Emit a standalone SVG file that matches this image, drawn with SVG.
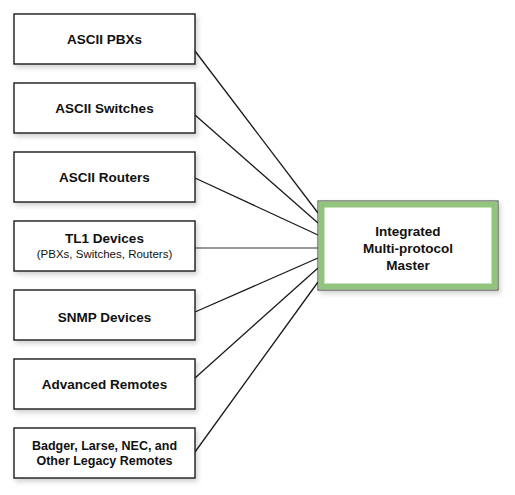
<svg xmlns="http://www.w3.org/2000/svg" width="515" height="495" viewBox="0 0 515 495">
<style>
.box{fill:#fff;stroke:#1a1a1a;stroke-width:1.4;filter:url(#sh)}
.t{font-family:"Liberation Sans",Arial,sans-serif;font-weight:bold;font-size:13.5px;fill:#111;text-anchor:middle}
.s{font-family:"Liberation Sans",Arial,sans-serif;font-size:11.5px;fill:#111;text-anchor:middle}
.c{stroke:#1a1a1a;stroke-width:1.3;fill:none}
</style>
<defs>
<filter id="sh" x="-10%" y="-20%" width="125%" height="150%">
<feDropShadow dx="2" dy="3" stdDeviation="2.5" flood-color="#000" flood-opacity="0.18"/>
</filter>
</defs>
<rect width="515" height="495" fill="#fff"/>
<g id="connectors">
<line class="c" x1="195" y1="51" x2="318" y2="213"/>
<line class="c" x1="195" y1="115" x2="318" y2="223"/>
<line class="c" x1="195" y1="178" x2="318" y2="235"/>
<line class="c" x1="195" y1="248" x2="318" y2="248" style="stroke:#777"/>
<line class="c" x1="195" y1="312" x2="318" y2="258"/>
<line class="c" x1="195" y1="378" x2="318" y2="268"/>
<line class="c" x1="195" y1="452" x2="318" y2="282"/>
</g>
<g id="n1"><rect class="box" x="14" y="14" width="181" height="50"/><text class="t" x="104.5" y="44">ASCII PBXs</text></g>
<g id="n2"><rect class="box" x="14" y="83" width="181" height="50"/><text class="t" x="104.5" y="113">ASCII Switches</text></g>
<g id="n3"><rect class="box" x="14" y="152" width="181" height="50"/><text class="t" x="104.5" y="182">ASCII Routers</text></g>
<g id="n4"><rect class="box" x="14" y="221" width="181" height="50"/><text class="t" x="104.5" y="243">TL1 Devices</text><text class="s" x="104.5" y="258">(PBXs, Switches, Routers)</text></g>
<g id="n5"><rect class="box" x="14" y="290" width="181" height="50"/><text class="t" x="104.5" y="322">SNMP Devices</text></g>
<g id="n6"><rect class="box" x="14" y="359" width="181" height="50"/><text class="t" x="104.5" y="389">Advanced Remotes</text></g>
<g id="n7"><rect class="box" x="14" y="428" width="181" height="50"/><text class="t" x="104.5" y="450" style="font-size:12.5px">Badger, Larse, NEC, and</text><text class="t" x="104.5" y="465" style="font-size:12.5px">Other Legacy Remotes</text></g>
<g id="master">
<rect x="318" y="201" width="180" height="89" fill="#fff" stroke="#333" stroke-width="1" filter="url(#sh)"/>
<rect x="321.5" y="204.5" width="173" height="82" fill="#fff" stroke="#93c47d" stroke-width="6"/>
<text class="t" x="408" y="236">Integrated</text>
<text class="t" x="408" y="253">Multi-protocol</text>
<text class="t" x="408" y="270">Master</text>
</g>
</svg>
